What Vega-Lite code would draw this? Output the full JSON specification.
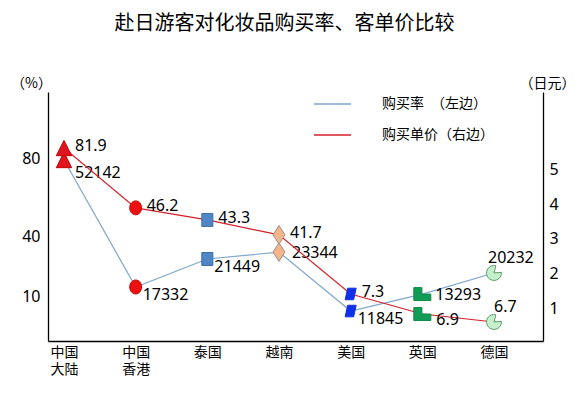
{
  "$schema": "https://vega.github.io/schema/vega-lite/v6.json",
  "width": 495,
  "height": 249,
  "autosize": {"type": "none"},
  "padding": {"left": 48, "top": 92, "right": 42, "bottom": 55},
  "background": "#ffffff",
  "title": {
    "text": "赴日游客对化妆品购买率、客单价比较",
    "font": "Noto Sans CJK SC",
    "fontSize": 20,
    "fontWeight": "normal",
    "color": "#000000",
    "anchor": "middle",
    "frame": "group",
    "dx": -11,
    "offset": 42
  },
  "data": {
    "values": [
      {"country": "中国大陆", "series": "购买率　（左边）", "value": 79.0, "label": "52142"},
      {"country": "中国香港", "series": "购买率　（左边）", "value": 14.6, "label": "17332"},
      {"country": "泰国", "series": "购买率　（左边）", "value": 28.8, "label": "21449"},
      {"country": "越南", "series": "购买率　（左边）", "value": 32.3, "label": "23344"},
      {"country": "美国", "series": "购买率　（左边）", "value": 2.4, "label": "11845"},
      {"country": "英国", "series": "购买率　（左边）", "value": 11.0, "label": "13293"},
      {"country": "德国", "series": "购买率　（左边）", "value": 21.7, "label": "20232"},
      {"country": "中国大陆", "series": "购买单价（右边）", "value": 5.63, "label": "81.9"},
      {"country": "中国香港", "series": "购买单价（右边）", "value": 3.90, "label": "46.2"},
      {"country": "泰国", "series": "购买单价（右边）", "value": 3.55, "label": "43.3"},
      {"country": "越南", "series": "购买单价（右边）", "value": 3.12, "label": "41.7"},
      {"country": "美国", "series": "购买单价（右边）", "value": 1.41, "label": "7.3"},
      {"country": "英国", "series": "购买单价（右边）", "value": 0.83, "label": "6.9"},
      {"country": "德国", "series": "购买单价（右边）", "value": 0.60, "label": "6.7"}
    ]
  },
  "encoding": {
    "x": {
      "field": "country",
      "type": "nominal",
      "sort": ["中国大陆", "中国香港", "泰国", "越南", "美国", "英国", "德国"],
      "scale": {"type": "point", "padding": 0.4535, "align": 0.246},
      "axis": {
        "title": null,
        "labelAngle": 0,
        "labelExpr": "length(datum.label) > 2 ? [substring(datum.label, 0, 2), substring(datum.label, 2)] : datum.label",
        "labelFont": "Noto Sans CJK SC",
        "labelFontSize": 14,
        "labelLineHeight": 17,
        "labelColor": "#000000",
        "labelPadding": 4,
        "ticks": false,
        "tickSize": 0,
        "domainColor": "#000000",
        "domainWidth": 1.3,
        "grid": false
      }
    }
  },
  "layer": [
    {
      "transform": [{"filter": "datum.series === '购买率　（左边）'"}],
      "encoding": {
        "y": {
          "field": "value",
          "type": "quantitative",
          "scale": {"domain": [-12.8, 113.5], "nice": false, "zero": false},
          "axis": {
            "orient": "left",
            "values": [10, 40, 80],
            "title": "（%）",
            "titleAngle": 0,
            "titleX": -17,
            "titleY": -9,
            "titleAlign": "center",
            "titleBaseline": "middle",
            "titleFont": "Noto Sans CJK SC",
            "titleFontSize": 14,
            "titleFontWeight": "normal",
            "titleColor": "#000000",
            "labelFont": "Noto Sans",
            "labelFontSize": 16,
            "labelColor": "#000000",
            "labelPadding": 8,
            "ticks": false,
            "tickSize": 0,
            "domainColor": "#000000",
            "domainWidth": 1.3,
            "grid": false
          }
        }
      },
      "layer": [
        {
          "mark": {"type": "line", "strokeWidth": 1.2},
          "encoding": {
            "color": {
              "field": "series",
              "type": "nominal",
              "scale": {"domain": ["购买率　（左边）", "购买单价（右边）"], "range": ["#7ea6cc", "#d4202a"]},
              "legend": {
                "title": null,
                "orient": "none",
                "legendX": 265,
                "legendY": 4,
                "symbolType": "stroke",
                "symbolSize": 1369,
                "symbolStrokeWidth": 1.3,
                "clipHeight": 16,
                "rowPadding": 15,
                "labelOffset": 30,
                "labelFont": "Noto Sans CJK SC",
                "labelFontSize": 14,
                "labelColor": "#000000",
                "padding": 0
              }
            }
          }
        },
        {
          "mark": {"type": "point", "filled": true, "size": 289, "strokeWidth": 1, "opacity": 1},
          "encoding": {
            "shape": {"field": "country", "type": "nominal", "legend": null,
              "scale": {"domain": ["中国大陆", "中国香港", "泰国", "越南", "美国", "英国", "德国"],
                "range": ["M0,-0.9L0.9,0.9L-0.9,0.9Z", "M0,-0.82A0.7,0.82 0 1,1 0,0.82A0.7,0.82 0 1,1 0,-0.82Z", "M-0.65,-0.76H0.65V0.76H-0.65Z", "M0,-1.1L0.7,0L0,1.1L-0.7,0Z", "M-0.35,-0.68H0.65L0.35,0.68H-0.65Z", "M-1,-0.76H-0.05V0H1V0.76H-1Z", "M0,0L0.877,-0.077A0.88,0.88 0 1,1 0.228,-0.85Z"]}},
            "fill": {"field": "country", "type": "nominal", "legend": null,
              "scale": {"domain": ["中国大陆", "中国香港", "泰国", "越南", "美国", "英国", "德国"],
                "range": ["#e0141e", "#ee1111", "#4f86c6", "#f5b48a", "#1030e8", "#119c55", "#c6efcd"]}},
            "stroke": {"field": "country", "type": "nominal", "legend": null,
              "scale": {"domain": ["中国大陆", "中国香港", "泰国", "越南", "美国", "英国", "德国"],
                "range": ["#c00000", "#c00000", "#3a6ea5", "#9e8f85", "#1030e8", "#0f8a4b", "#5aa06a"]}}
          }
        },
        {
          "transform": [{"filter": "datum.country === '中国大陆'"}],
          "mark": {"type": "text", "align": "left", "baseline": "middle", "dx": 11, "dy": 13, "font": "Noto Sans", "fontSize": 16, "color": "#000000"},
          "encoding": {"text": {"field": "label"}}
        },
        {
          "transform": [{"filter": "indexof(['中国香港','泰国','美国'], datum.country) >= 0"}],
          "mark": {"type": "text", "align": "left", "baseline": "middle", "dx": 7, "dy": 8, "font": "Noto Sans", "fontSize": 16, "color": "#000000"},
          "encoding": {"text": {"field": "label"}}
        },
        {
          "transform": [{"filter": "indexof(['越南','英国'], datum.country) >= 0"}],
          "mark": {"type": "text", "align": "left", "baseline": "middle", "dx": 13, "dy": 1, "font": "Noto Sans", "fontSize": 16, "color": "#000000"},
          "encoding": {"text": {"field": "label"}}
        },
        {
          "transform": [{"filter": "datum.country === '德国'"}],
          "mark": {"type": "text", "align": "left", "baseline": "middle", "dx": -6, "dy": -15, "font": "Noto Sans", "fontSize": 16, "color": "#000000"},
          "encoding": {"text": {"field": "label"}}
        }
      ]
    },
    {
      "transform": [{"filter": "datum.series === '购买单价（右边）'"}],
      "encoding": {
        "y": {
          "field": "value",
          "type": "quantitative",
          "scale": {"domain": [0.05, 7.25], "nice": false, "zero": false},
          "axis": {
            "orient": "right",
            "values": [1, 2, 3, 4, 5],
            "title": "（日元）",
            "titleAngle": 0,
            "titleX": 4,
            "titleY": -9,
            "titleAlign": "center",
            "titleBaseline": "middle",
            "titleFont": "Noto Sans CJK SC",
            "titleFontSize": 14,
            "titleFontWeight": "normal",
            "titleColor": "#000000",
            "labelFont": "Noto Sans",
            "labelFontSize": 16,
            "labelColor": "#000000",
            "labelPadding": 6,
            "ticks": false,
            "tickSize": 0,
            "domainColor": "#000000",
            "domainWidth": 1.3,
            "grid": false
          }
        }
      },
      "layer": [
        {
          "mark": {"type": "line", "strokeWidth": 1.2},
          "encoding": {
            "color": {
              "field": "series",
              "type": "nominal",
              "scale": {"domain": ["购买率　（左边）", "购买单价（右边）"], "range": ["#7ea6cc", "#d4202a"]}
            }
          }
        },
        {
          "mark": {"type": "point", "filled": true, "size": 289, "strokeWidth": 1, "opacity": 1},
          "encoding": {
            "shape": {"field": "country", "type": "nominal", "legend": null},
            "fill": {"field": "country", "type": "nominal", "legend": null},
            "stroke": {"field": "country", "type": "nominal", "legend": null}
          }
        },
        {
          "transform": [{"filter": "indexof(['德国','英国'], datum.country) < 0"}],
          "mark": {"type": "text", "align": "left", "baseline": "middle", "dx": 11, "dy": -2, "font": "Noto Sans", "fontSize": 16, "color": "#000000"},
          "encoding": {"text": {"field": "label"}}
        },
        {
          "transform": [{"filter": "datum.country === '英国'"}],
          "mark": {"type": "text", "align": "left", "baseline": "middle", "dx": 14, "dy": 6, "font": "Noto Sans", "fontSize": 16, "color": "#000000"},
          "encoding": {"text": {"field": "label"}}
        },
        {
          "transform": [{"filter": "datum.country === '德国'"}],
          "mark": {"type": "text", "align": "left", "baseline": "middle", "dx": 0, "dy": -15, "font": "Noto Sans", "fontSize": 16, "color": "#000000"},
          "encoding": {"text": {"field": "label"}}
        }
      ]
    }
  ],
  "resolve": {"scale": {"y": "independent"}},
  "config": {
    "view": {"stroke": null},
    "axis": {"grid": false}
  }
}
